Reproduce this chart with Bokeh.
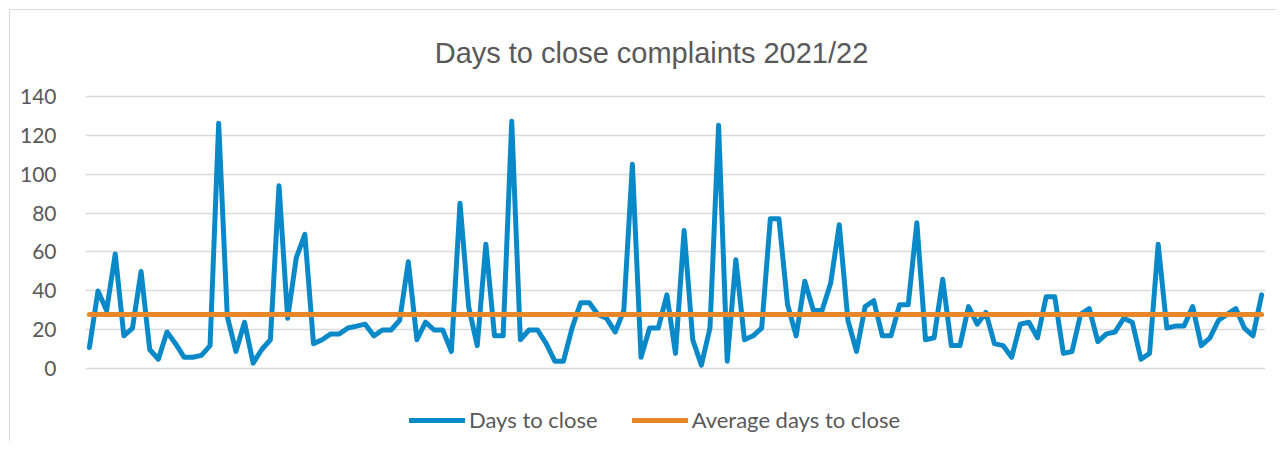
from bokeh.plotting import figure
from bokeh.models import Range1d, Legend, LegendItem, Label, FixedTicker
from bokeh.embed import file_html
from bokeh.resources import INLINE

title_text = "Days to close complaints 2021/22"
series_name = "Days to close"
avg_name = "Average days to close"

days_to_close = [
    11, 40, 30, 59, 17, 21, 50, 10, 5, 19, 13, 6, 6, 7, 12, 126,
    27, 9, 24, 3, 10, 15, 94,
    26, 57, 69, 13, 15, 18, 18, 21, 22, 23, 17, 20, 20, 25, 55, 15, 24, 20, 20, 9, 85,
    32, 12, 64, 17, 17, 127, 15, 20, 20, 13, 4, 4, 21, 34, 34, 28, 26, 19, 30, 105, 6, 21, 21,
    38, 8, 71, 15, 2, 21, 125, 4, 56, 15, 17, 21, 77, 77, 33, 17, 45, 30, 30, 44, 74, 25,
    9, 32, 35, 17, 17, 33, 33, 75, 15, 16, 46, 12, 12, 32, 23, 29, 13, 12, 6, 23, 24, 16,
    37, 37, 8, 9, 28, 31, 14, 18, 19, 26, 24, 5, 8, 64, 21, 22, 22, 32, 12, 16, 25, 28, 31, 21, 17, 38,
]
average_days = 28
y_ticks = [0, 20, 40, 60, 80, 100, 120, 140]

complaints = list(range(1, len(days_to_close) + 1))
avg_values = [average_days for _ in complaints]

BLUE = "#0A89C8"
ORANGE = "#E8862A"
GREY_TEXT = "#595959"
GRID = "#D9D9D9"

# frame spans page y 17..440 (1.95 px per unit, 0 at y=368.5)
p = figure(
    width=1267, height=432,
    output_backend="svg", toolbar_location=None,
    x_range=Range1d(complaints[0] - 0.45, complaints[-1] + 0.45),
    y_range=Range1d(-36.67, 180.26),
    min_border_left=75, min_border_right=12,
    min_border_top=7, min_border_bottom=2,
)
p.styles = {"margin-left": "9px", "margin-top": "9px",
            "border-left": "1px solid #D9D9D9", "border-top": "1px solid #D9D9D9"}
p.outline_line_color = None
p.background_fill_color = "white"
p.border_fill_color = "white"

p.xaxis.visible = False
p.xgrid.visible = False
p.yaxis.ticker = FixedTicker(ticks=y_ticks)
p.yaxis.axis_line_color = None
p.yaxis.major_tick_line_color = None
p.yaxis.minor_tick_line_color = None
p.yaxis.major_label_standoff = 23
p.yaxis.major_label_text_font = "Lato"
p.yaxis.major_label_text_font_size = "21px"
p.yaxis.major_label_text_color = GREY_TEXT
p.ygrid.grid_line_color = GRID
p.ygrid.grid_line_width = 1.3

r_days = p.line(complaints, days_to_close, line_color=BLUE, line_width=5,
                line_join="round", line_cap="round")
r_avg = p.line(complaints, avg_values, line_color=ORANGE, line_width=5,
               line_join="round", line_cap="round")

legend = Legend(
    items=[LegendItem(label=series_name, renderers=[r_days]),
           LegendItem(label=avg_name, renderers=[r_avg])],
    orientation="horizontal",
    location=(324, 7),
    padding=0, margin=0, spacing=34,
    glyph_width=56, glyph_height=22, label_height=22,
    label_standoff=4,
    label_text_font="Lato", label_text_font_size="22px",
    label_text_color=GREY_TEXT,
    border_line_color=None, background_fill_alpha=0,
)
p.add_layout(legend, "center")

title = Label(
    x=566, y=388, x_units="screen", y_units="screen",
    text=title_text, text_align="center", text_baseline="alphabetic",
    text_font="Liberation Sans", text_font_size="29px", text_color=GREY_TEXT,
)
p.add_layout(title)

open("out.html", "w").write(file_html(p, INLINE))
